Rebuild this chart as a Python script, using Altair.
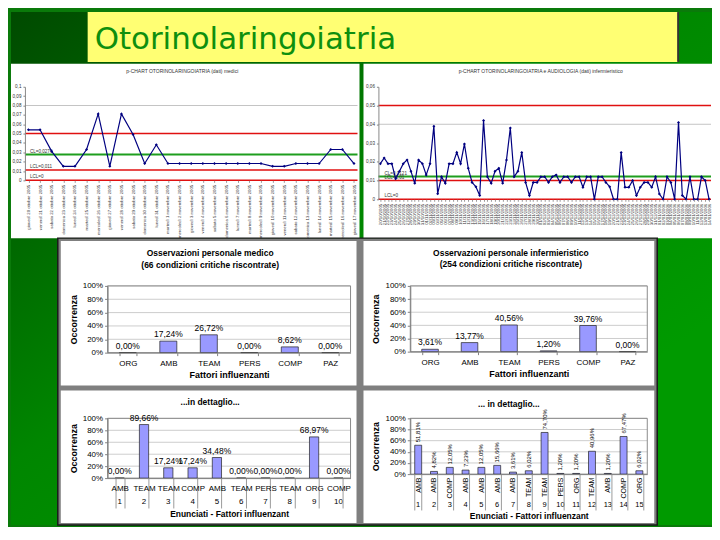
import altair as alt
import pandas as pd

FONT = "Liberation Sans"

# ---------------- data ----------------
left_dates = [
    "giovedì 20 ottobre 2005", "venerdì 21 ottobre 2005", "sabato 22 ottobre 2005",
    "domenica 23 ottobre 2005", "lunedì 24 ottobre 2005", "martedì 25 ottobre 2005",
    "mercoledì 26 ottobre 2005", "giovedì 27 ottobre 2005", "venerdì 28 ottobre 2005",
    "sabato 29 ottobre 2005", "domenica 30 ottobre 2005", "lunedì 31 ottobre 2005",
    "martedì 1 novembre 2005", "mercoledì 2 novembre 2005", "giovedì 3 novembre 2005",
    "venerdì 4 novembre 2005", "sabato 5 novembre 2005", "domenica 6 novembre 2005",
    "lunedì 7 novembre 2005", "martedì 8 novembre 2005", "mercoledì 9 novembre 2005",
    "giovedì 10 novembre 2005", "venerdì 11 novembre 2005", "sabato 12 novembre 2005",
    "domenica 13 novembre 2005", "lunedì 14 novembre 2005", "martedì 15 novembre 2005",
    "mercoledì 16 novembre 2005", "giovedì 17 novembre 2005"]
left_p = [0.054, 0.054, 0.031, 0.015, 0.015, 0.033, 0.071, 0.015, 0.071, 0.049,
          0.018, 0.038, 0.018, 0.018, 0.018, 0.018, 0.018, 0.018, 0.018, 0.018,
          0.018, 0.015, 0.015, 0.018, 0.018, 0.018, 0.033, 0.033, 0.018]

right_dates = [
    "20/10/2005", "21/10/2005", "22/10/2005", "23/10/2005", "24/10/2005", "25/10/2005",
    "26/10/2005", "27/10/2005", "28/10/2005", "29/10/2005", "30/10/2005", "31/10/2005",
    "01/11/2005", "02/11/2005", "03/11/2005", "04/11/2005", "05/11/2005", "06/11/2005",
    "07/11/2005", "08/11/2005", "09/11/2005", "10/11/2005", "11/11/2005", "12/11/2005",
    "13/11/2005", "14/11/2005", "15/11/2005", "16/11/2005", "17/11/2005", "18/11/2005",
    "19/11/2005", "20/11/2005", "21/11/2005", "22/11/2005", "23/11/2005", "24/11/2005",
    "25/11/2005", "26/11/2005", "27/11/2005", "28/11/2005", "29/11/2005", "30/11/2005",
    "01/12/2005", "02/12/2005", "03/12/2005", "04/12/2005", "05/12/2005", "06/12/2005",
    "07/12/2005", "08/12/2005", "09/12/2005", "10/12/2005", "11/12/2005", "12/12/2005",
    "13/12/2005", "14/12/2005", "15/12/2005", "16/12/2005", "17/12/2005", "18/12/2005",
    "19/12/2005", "20/12/2005", "21/12/2005", "22/12/2005", "23/12/2005", "24/12/2005",
    "25/12/2005", "26/12/2005", "27/12/2005", "28/12/2005", "29/12/2005", "30/12/2005",
    "31/12/2005", "01/01/2006", "02/01/2006", "03/01/2006", "04/01/2006", "05/01/2006",
    "06/01/2006", "07/01/2006", "08/01/2006", "09/01/2006", "10/01/2006", "11/01/2006",
    "12/01/2006", "13/01/2006", "14/01/2006"]
right_p = [0.019, 0.022, 0.019, 0.019, 0.011, 0.015, 0.019, 0.021, 0.015, 0.0085,
           0.021, 0.019, 0.013, 0.019, 0.039, 0.003, 0.012, 0.0085, 0.019, 0.019,
           0.025, 0.019, 0.0295, 0.0165, 0.009, 0.0067, 0.002, 0.042, 0.012, 0.0085,
           0.015, 0.0165, 0.0085, 0.021, 0.038, 0.012, 0.015, 0.025, 0.009, 0.002,
           0.009, 0.009, 0.012, 0.012, 0.009, 0.012, 0.013, 0.009, 0.012, 0.012,
           0.009, 0.012, 0.012, 0.0064, 0.012, 0.012, 0.0, 0.012, 0.012, 0.009,
           0.0067, 0.0, 0.0, 0.025, 0.0064, 0.0064, 0.010, 0.002, 0.0064, 0.009,
           0.009, 0.0064, 0.012, 0.0028, 0.0, 0.012, 0.009, 0.0, 0.041, 0.002,
           0.0, 0.012, 0.0, 0.0, 0.012, 0.010, 0.0]

left_ticks = [0, 0.01, 0.02, 0.03, 0.04, 0.05, 0.06, 0.07, 0.08, 0.09, 0.1]
right_ticks = [0, 0.01, 0.02, 0.03, 0.04, 0.05, 0.06]
left_ref_values = [0.08, 0.05, 0.0276, 0.011, 0.0]
left_ref_kinds = ["grigia", "limite", "centrale", "limite", "limite"]
left_note_values = [0.0276, 0.011, 0.0]
left_note_texts = ["CL=0,0276", "LCL=0,011", "LCL=0"]
right_ref_values = [0.05, 0.04, 0.0121, 0.01, 0.0]
right_ref_kinds = ["limite", "grigia", "centrale", "limite", "limite"]
right_note_values = [0.0121, 0.01, 0.0]
right_note_texts = ["CL=0,0121", "LCL=0,01", "LCL=0"]
left_title = "p-CHART OTORINOLARINGOIATRIA (dati) medici"
right_title = "p-CHART OTORINOLARINGOIATRIA e AUDIOLOGIA (dati) infermieristico"

fattori = ["ORG", "AMB", "TEAM", "PERS", "COMP", "PAZ"]
medici_pct = [0.00, 17.24, 26.72, 0.00, 8.62, 0.00]
infermieri_pct = [3.61, 13.77, 40.56, 1.20, 39.76, 0.00]

det_med_fattori = ["AMB", "TEAM", "TEAM", "COMP", "AMB", "TEAM", "PERS", "TEAM", "ORG", "COMP"]
det_med_num = ["1", "2", "3", "4", "5", "6", "7", "8", "9", "10"]
det_med_pct = [0.00, 89.66, 17.24, 17.24, 34.48, 0.00, 0.00, 0.00, 68.97, 0.00]

det_inf_fattori = ["AMB", "AMB", "COMP", "AMB", "AMB", "AMB", "AMB", "TEAM", "TEAM",
                   "PERS", "ORG", "TEAM", "AMB", "COMP", "ORG"]
det_inf_num = ["1", "2", "3", "4", "5", "6", "7", "8", "9", "10", "11", "12", "13", "14", "15"]
det_inf_pct = [51.81, 4.82, 12.05, 7.23, 12.05, 15.66, 3.61, 6.02, 74.70, 1.20,
               1.20, 40.96, 1.20, 67.47, 6.02]

pct_ticks = [0, 20, 40, 60, 80, 100]
grid_pct = [20, 40, 60, 80, 100]

# ---------------- helpers ----------------
one = pd.DataFrame({"k": [0]})


def box(x, x2, y, y2, **kw):
    return alt.Chart(one).mark_rect(**kw).encode(
        x=alt.value(x), x2=alt.value(x2), y=alt.value(y), y2=alt.value(y2))


def label(text, x, y, **kw):
    return alt.Chart(one).mark_text(text=text, **kw).encode(x=alt.value(x), y=alt.value(y))


def spacer(w, h):
    return alt.Chart(one).mark_point(opacity=0).encode(
        x=alt.value(0), y=alt.value(0)).properties(width=w, height=h)


def pct_text(v):
    return f"{v:.2f}".replace(".", ",") + "%"


# ---------------- title row (slide background + heading) ----------------
grad = alt.LinearGradient(
    gradient="linear",
    stops=[alt.GradientStop(color="#004a00", offset=0),
           alt.GradientStop(color="#006a00", offset=0.3),
           alt.GradientStop(color="#008600", offset=0.55),
           alt.GradientStop(color="#009a00", offset=1)],
    x1=0, y1=0, x2=0.8, y2=0.8)

title_row = alt.layer(
    box(0, 704, 0, 515, fill=grad),
    box(77, 670, 0, 50, fill="#ffff73"),
    box(669, 671, 0, 50, fill="#333333"),
    label("Otorinolaringoiatria", 84, 37, font="DejaVu Sans", fontSize=31,
          color="#0e8f0e", align="left", baseline="alphabetic"),
).properties(width=14, height=75)


# ---------------- line (p-chart) panels ----------------
def line_panel(dates, values, ticks, ymax, ref_vals, ref_kinds, note_vals, note_texts,
               title, w, h, pbox, title_x, note_x, pad):
    df = pd.DataFrame({"data": dates, "p": values})
    ref = pd.DataFrame({"v": ref_vals, "k": ref_kinds})
    notes = pd.DataFrame({"v": note_vals, "t": note_texts})
    yscale = alt.Scale(domain=[0, ymax], nice=False)
    yaxis = alt.Axis(values=ticks, title=None,
                     labelExpr="replace(format(datum.value, '.2~f'), '.', ',')",
                     labelFontSize=4.6, labelColor="#333333", tickSize=2,
                     tickColor="#888888", domainColor="#888888", labelPadding=2,
                     grid=False, zindex=1)
    xdef = alt.X("data:N", sort=dates, scale=alt.Scale(type="point", padding=pad),
                 axis=alt.Axis(title=None, labelAngle=270, labelFontSize=4.3,
                               labelColor="#333333", tickSize=2, tickColor="#999999",
                               domain=False, labelPadding=2, grid=False, zindex=1))
    rules = alt.Chart(ref).mark_rule().encode(
        y=alt.Y("v:Q", scale=yscale, axis=yaxis),
        color=alt.Color("k:N", scale=alt.Scale(domain=["grigia", "limite", "centrale"],
                                               range=["#c4c4c4", "#e01010", "#1e9e1e"]),
                        legend=None),
        strokeWidth=alt.StrokeWidth("k:N", scale=alt.Scale(domain=["grigia", "limite", "centrale"],
                                                           range=[1, 2, 1.6]), legend=None))
    note_layer = alt.Chart(notes).mark_text(
        align="left", baseline="bottom", dy=-1, fontSize=4.6, color="#333333").encode(
        x=alt.value(note_x), y=alt.Y("v:Q", scale=yscale, axis=yaxis), text="t:N")
    line = alt.Chart(df).mark_line(color="#000080", strokeWidth=1.2).encode(
        x=xdef, y=alt.Y("p:Q", scale=yscale, axis=yaxis))
    pts = alt.Chart(df).mark_point(filled=True, color="#000080", size=9, shape="diamond",
                                   opacity=1).encode(
        x=xdef, y=alt.Y("p:Q", scale=yscale, axis=yaxis))
    ttl = label(title, title_x, -16, fontSize=5, color="#333333", align="center",
                baseline="middle")
    return alt.layer(box(*pbox, fill="white"), rules, note_layer, line, pts, ttl).properties(
        width=w, height=h)


line_left = line_panel(left_dates, left_p, left_ticks, 0.1, left_ref_values, left_ref_kinds,
                       left_note_values, left_note_texts, left_title, 334, 94,
                       (-14, 336, -23, 152), 158, 5, 0.3)
line_right = line_panel(right_dates, right_p, right_ticks, 0.06, right_ref_values,
                        right_ref_kinds, right_note_values, right_note_texts, right_title,
                        334, 113, (-15, 335, -23, 152), 163, 6, 0.5)


# ---------------- bar panels ----------------
def ydef(field, ox):
    return alt.Y(field, scale=alt.Scale(domain=[0, 100], nice=False),
                 axis=alt.Axis(values=pct_ticks, labelExpr="datum.value + '%'",
                               title="Occorrenza", titleFontSize=9, titleFontWeight="bold",
                               titleColor="black", labelFontSize=8, labelColor="black",
                               tickSize=3, tickColor="#808080", domainColor="#808080",
                               labelPadding=2, titlePadding=4, grid=False, offset=-ox,
                               zindex=1))


def make_x(field, keys, ox, pw, pinner, axis):
    return alt.X(field, sort=keys,
                 scale=alt.Scale(range=[ox, ox + pw], paddingInner=pinner,
                                 paddingOuter=pinner / 2),
                 axis=axis)


def bar_panel(df, xdef, ox, pw, vw, h, pbox, titles, value_mark, extra=None, frame=None):
    layers = []
    if frame is not None:
        layers.append(box(*frame, fill="#7f7f7f", stroke="#1a1a1a", strokeWidth=1.5))
    layers.append(box(*pbox, fill="white"))
    layers.append(alt.Chart(pd.DataFrame({"g": grid_pct})).mark_rule(
        color="#c0c0c0", strokeWidth=0.8).encode(
        x=alt.value(ox), x2=alt.value(ox + pw), y=ydef("g:Q", ox)))
    layers.append(box(ox, ox + pw, 0, h, fillOpacity=0, stroke="#8a8a8a", strokeWidth=1))
    layers.append(alt.Chart(df).mark_bar(fill="#9999ff", stroke="#222222",
                                         strokeWidth=0.7).encode(x=xdef, y=ydef("pct:Q", ox)))
    layers.append(alt.Chart(df).mark_text(**value_mark).encode(
        x=xdef, y=ydef("pct:Q", ox), text="lab:N"))
    if extra is not None:
        layers.append(extra)
    for (t, tx, ty) in titles:
        layers.append(label(t, tx, ty, fontSize=8.5, fontWeight="bold", color="black",
                            align="center", baseline="middle"))
    return alt.layer(*layers).properties(width=vw, height=h)


def factor_axis():
    return alt.Axis(title="Fattori influenzanti", titleFontSize=9,
                    titleFontWeight="bold", titleColor="black", labelFontSize=8,
                    labelColor="black", labelAngle=0, tickBand="extent",
                    tickSize=3, tickColor="#808080", domainColor="#808080",
                    labelPadding=4, titlePadding=3, grid=False, zindex=1)


plain_val = dict(fontSize=8.5, color="black", baseline="alphabetic", dy=-4)

OX_L, OX_R = 83, 32   # plot offsets inside the left / right grid cells

df_tl = pd.DataFrame({"f": fattori, "pct": medici_pct,
                      "lab": [pct_text(v) for v in medici_pct]})
df_tr = pd.DataFrame({"f": fattori, "pct": infermieri_pct,
                      "lab": [pct_text(v) for v in infermieri_pct]})

bar_tl = bar_panel(df_tl, make_x("f:N", fattori, OX_L, 244, 0.58, factor_axis()),
                   OX_L, 244, 355, 67, (36, 333, -45, 100),
                   [("Osservazioni personale medico", 186, -33),
                    ("(66 condizioni critiche riscontrate)", 186, -21)],
                   plain_val, frame=(33, 635, -48, 240))
bar_tr = bar_panel(df_tr, make_x("f:N", fattori, OX_R, 238, 0.58, factor_axis()),
                   OX_R, 238, 334, 66, (-15, 277, -45, 100),
                   [("Osservazioni personale infermieristico", 133, -33),
                    ("(254 condizioni critiche riscontrate)", 133, -22)],
                   plain_val)

keys_bl = [f"{c}|{n}" for c, n in zip(det_med_fattori, det_med_num)]
df_bl = pd.DataFrame({"key": keys_bl, "n": det_med_num, "pct": det_med_pct,
                      "lab": [pct_text(v) for v in det_med_pct]})
axis_bl = alt.Axis(title="Enunciati - Fattori influenzant", titleFontSize=8.5,
                   titleFontWeight="bold", titleColor="black", labelFontSize=8,
                   labelColor="black", labelAngle=0, tickBand="extent", tickSize=30,
                   tickColor="#9a9a9a", domainColor="#808080", labelPadding=-24,
                   labelExpr="split(datum.label, '|')[0]", titlePadding=1.5, grid=False,
                   zindex=1)
x_bl = make_x("key:N", keys_bl, OX_L, 244, 0.62, axis_bl)
nums_bl = alt.Chart(df_bl).mark_text(fontSize=8, color="black", baseline="middle").encode(
    x=x_bl, y=alt.value(60 + 24), text="n:N")
bar_bl = bar_panel(df_bl, x_bl, OX_L, 244, 355, 60, (36, 333, -28, 105),
                   [("...in dettaglio...", 186, -16)], plain_val, extra=nums_bl)

keys_br = [f"{c}|{n}" for c, n in zip(det_inf_fattori, det_inf_num)]
df_br = pd.DataFrame({"key": keys_br, "n": det_inf_num, "pct": det_inf_pct,
                      "lab": [pct_text(v) for v in det_inf_pct]})
axis_br = alt.Axis(title="Enunciati - Fattori influenzant", titleFontSize=8.5,
                   titleFontWeight="bold", titleColor="black", labelFontSize=7,
                   labelColor="black", labelAngle=270, tickBand="extent", tickSize=36,
                   tickColor="#9a9a9a", domainColor="#808080", labelPadding=-33,
                   labelExpr="split(datum.label, '|')[0]", titlePadding=1, grid=False,
                   zindex=1)
x_br = make_x("key:N", keys_br, OX_R, 238, 0.56, axis_br)
nums_br = alt.Chart(df_br).mark_text(fontSize=7.5, color="black", baseline="middle").encode(
    x=x_br, y=alt.value(56 + 31), text="n:N")
rot_val = dict(fontSize=6, color="black", angle=270, align="left", baseline="middle", dx=3)
bar_br = bar_panel(df_br, x_br, OX_R, 238, 334, 56, (-15, 277, -28, 105),
                   [("... in dettaglio...", 131, -14)], rot_val, extra=nums_br)

# ---------------- assemble (3-column grid, flush bounds) ----------------
items = [
    title_row, spacer(1, 1), spacer(1, 1),
    spacer(14, 200), line_left, line_right,
    spacer(14, 133), bar_tl, bar_tr,
    spacer(14, 1), bar_bl, bar_br,
]

chart = alt.concat(
    *items, columns=3, spacing=0, bounds="flush", align="each",
).properties(
    padding=0, background="#0a7a0a",
).configure_view(
    strokeWidth=0,
).configure_axis(
    labelFont=FONT, titleFont=FONT,
).configure_text(
    font=FONT,
)

chart.save("out.html", embed_options={"renderer": "svg", "actions": False})
